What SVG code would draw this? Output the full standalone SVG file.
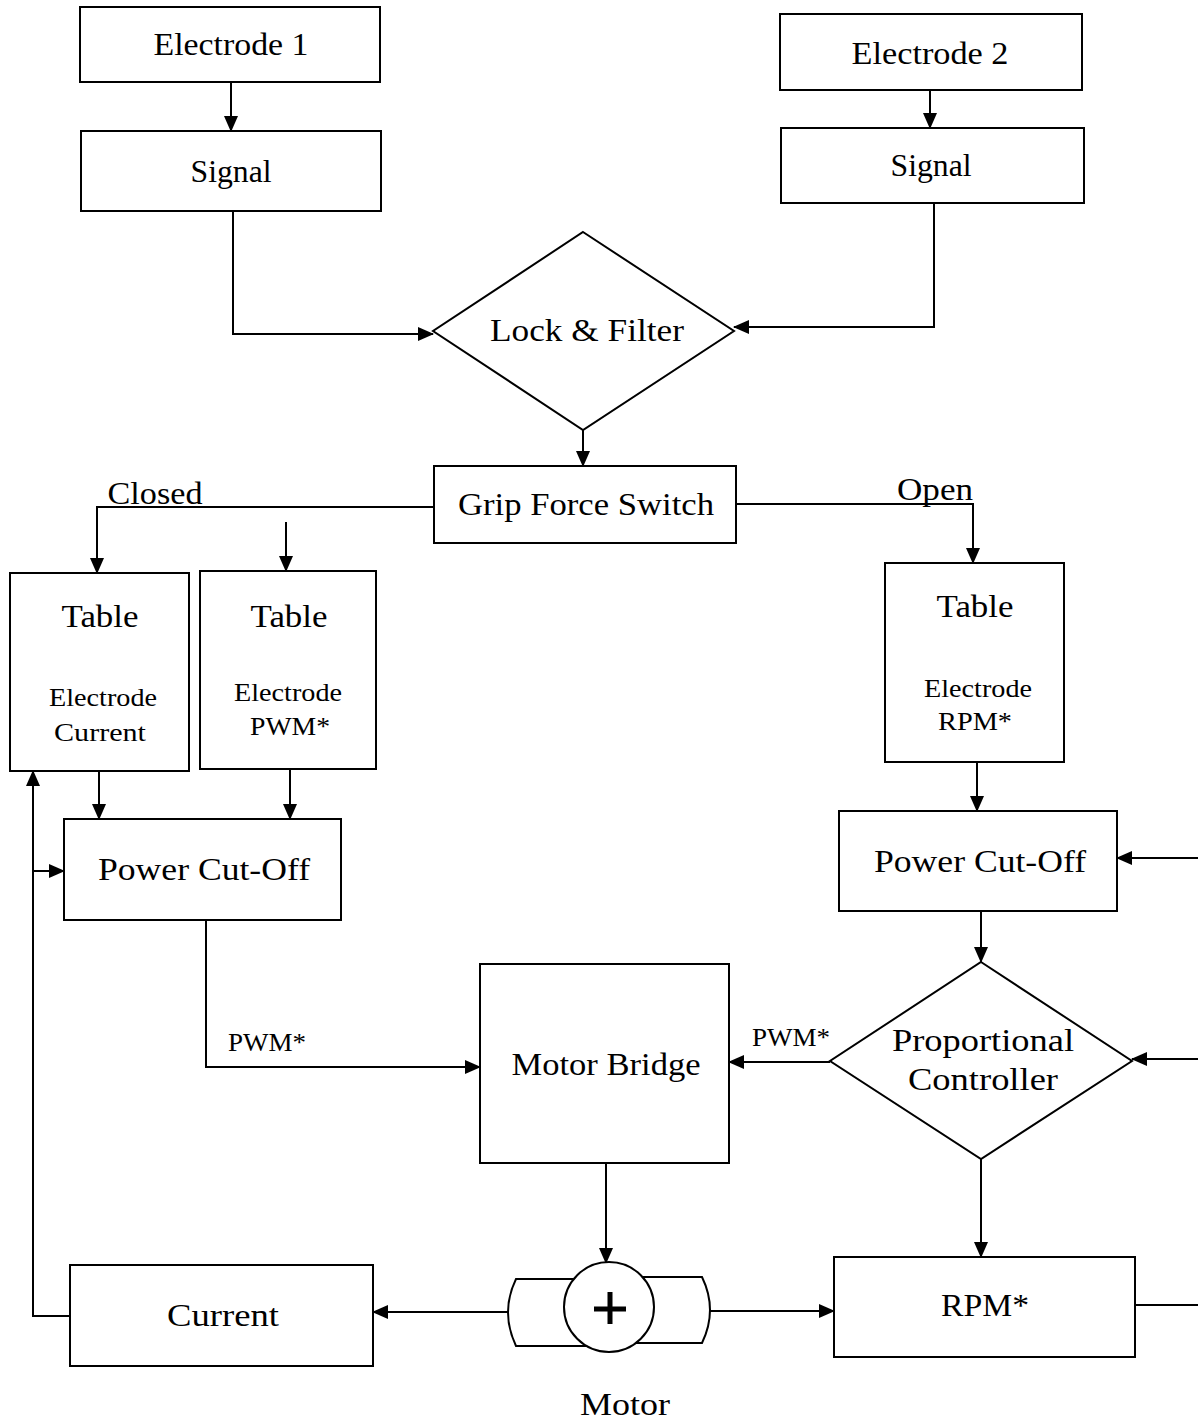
<svg xmlns="http://www.w3.org/2000/svg" width="1198" height="1421" viewBox="0 0 1198 1421">
<defs>
<marker id="ah" markerWidth="16" markerHeight="14" refX="15" refY="7" orient="auto" markerUnits="userSpaceOnUse">
<path d="M0,0 L16,7 L0,14 Z" fill="#000"/>
</marker>
<style>
.b{fill:#fff;stroke:#000;stroke-width:2}
.c{fill:none;stroke:#000;stroke-width:2}
.a{fill:none;stroke:#000;stroke-width:2;marker-end:url(#ah)}
.t{font-family:"Liberation Serif","Times New Roman",serif;font-size:32px;text-anchor:middle;fill:#000}
.s{font-family:"Liberation Serif","Times New Roman",serif;font-size:25px;text-anchor:middle;fill:#000}
</style>
</defs>
<rect width="1198" height="1421" fill="#fff"/>
<g id="connectors">
<path class="a" d="M231,82 V131"/>
<path class="a" d="M930,90 V128"/>
<path class="a" d="M233,211 V334 H433"/>
<path class="a" d="M934,203 V327 H734"/>
<path class="a" d="M583,430 V466"/>
<path class="a" d="M434,507 H97 V573"/>
<path class="a" d="M286,522 V571"/>
<path class="a" d="M736,504 H973 V563"/>
<path class="a" d="M99,771 V819"/>
<path class="a" d="M290,769 V819"/>
<path class="a" d="M977,762 V811"/>
<path class="a" d="M1198,858 H1117"/>
<path class="a" d="M981,911 V962"/>
<path class="a" d="M1198,1059 H1132"/>
<path class="a" d="M206,920 V1067 H480"/>
<path class="a" d="M830,1062 H729"/>
<path class="a" d="M981,1159 V1257"/>
<path class="c" d="M1135,1305 H1198"/>
<path class="a" d="M606,1163 V1263"/>
<path class="a" d="M509,1312 H373"/>
<path class="a" d="M710,1311 H834"/>
<path class="a" d="M70,1316 H33 V771"/>
<path class="a" d="M33,871 H64"/>
<text class="t" x="155" y="504" textLength="95" lengthAdjust="spacingAndGlyphs">Closed</text>
<text class="t" x="935" y="500" textLength="76" lengthAdjust="spacingAndGlyphs">Open</text>
<text class="s" x="267" y="1051" textLength="78" lengthAdjust="spacingAndGlyphs">PWM*</text>
<text class="s" x="791" y="1046" textLength="78" lengthAdjust="spacingAndGlyphs">PWM*</text>
</g>
<g id="electrode1"><rect class="b" x="80" y="7" width="300" height="75"/><text class="t" x="231" y="55" textLength="155" lengthAdjust="spacingAndGlyphs">Electrode 1</text></g>
<g id="signal1"><rect class="b" x="81" y="131" width="300" height="80"/><text class="t" x="231" y="182" textLength="81" lengthAdjust="spacingAndGlyphs">Signal</text></g>
<g id="electrode2"><rect class="b" x="780" y="14" width="302" height="76"/><text class="t" x="930" y="64" textLength="157" lengthAdjust="spacingAndGlyphs">Electrode 2</text></g>
<g id="signal2"><rect class="b" x="781" y="128" width="303" height="75"/><text class="t" x="931" y="176" textLength="81" lengthAdjust="spacingAndGlyphs">Signal</text></g>
<g id="lockfilter"><path class="b" d="M583,232 L734,331 L583,430 L433,331 Z"/><text class="t" x="587" y="341" textLength="194" lengthAdjust="spacingAndGlyphs">Lock &amp; Filter</text></g>
<g id="grip"><rect class="b" x="434" y="466" width="302" height="77"/><text class="t" x="586" y="515" textLength="256" lengthAdjust="spacingAndGlyphs">Grip Force Switch</text></g>
<g id="table1"><rect class="b" x="10" y="573" width="179" height="198"/><text class="t" x="100" y="627" textLength="77" lengthAdjust="spacingAndGlyphs">Table</text><text class="s" x="103" y="706" textLength="108" lengthAdjust="spacingAndGlyphs">Electrode</text><text class="s" x="100" y="741" textLength="92" lengthAdjust="spacingAndGlyphs">Current</text></g>
<g id="table2"><rect class="b" x="200" y="571" width="176" height="198"/><text class="t" x="289" y="627" textLength="77" lengthAdjust="spacingAndGlyphs">Table</text><text class="s" x="288" y="701" textLength="108" lengthAdjust="spacingAndGlyphs">Electrode</text><text class="s" x="290" y="735" textLength="80" lengthAdjust="spacingAndGlyphs">PWM*</text></g>
<g id="table3"><rect class="b" x="885" y="563" width="179" height="199"/><text class="t" x="975" y="617" textLength="77" lengthAdjust="spacingAndGlyphs">Table</text><text class="s" x="978" y="697" textLength="108" lengthAdjust="spacingAndGlyphs">Electrode</text><text class="s" x="975" y="730" textLength="74" lengthAdjust="spacingAndGlyphs">RPM*</text></g>
<g id="cutoff1"><rect class="b" x="64" y="819" width="277" height="101"/><text class="t" x="204" y="880" textLength="212" lengthAdjust="spacingAndGlyphs">Power Cut-Off</text></g>
<g id="cutoff2"><rect class="b" x="839" y="811" width="278" height="100"/><text class="t" x="980" y="872" textLength="212" lengthAdjust="spacingAndGlyphs">Power Cut-Off</text></g>
<g id="controller"><path class="b" d="M981,962 L1132,1061 L981,1159 L830,1061 Z"/><text class="t" x="983" y="1051" textLength="182" lengthAdjust="spacingAndGlyphs">Proportional</text><text class="t" x="983" y="1090" textLength="150" lengthAdjust="spacingAndGlyphs">Controller</text></g>
<g id="motorbridge"><rect class="b" x="480" y="964" width="249" height="199"/><text class="t" x="606" y="1075" textLength="189" lengthAdjust="spacingAndGlyphs">Motor Bridge</text></g>
<g id="rpm"><rect class="b" x="834" y="1257" width="301" height="100"/><text class="t" x="985" y="1316" textLength="88" lengthAdjust="spacingAndGlyphs">RPM*</text></g>
<g id="current"><rect class="b" x="70" y="1265" width="303" height="101"/><text class="t" x="223" y="1326" textLength="112" lengthAdjust="spacingAndGlyphs">Current</text></g>
<g id="motor">
<path class="b" d="M590,1279 H516 Q500,1312 516,1346 H590 Z"/>
<path class="b" d="M628,1277 H702 Q718,1310 702,1343 H628 Z"/>
<ellipse class="b" cx="609" cy="1307" rx="45" ry="45"/>
<path d="M594,1309 H626 M610,1292 V1324" stroke="#000" stroke-width="5" fill="none"/>
<text class="t" x="625" y="1415" textLength="90" lengthAdjust="spacingAndGlyphs">Motor</text>
</g>
</svg>
